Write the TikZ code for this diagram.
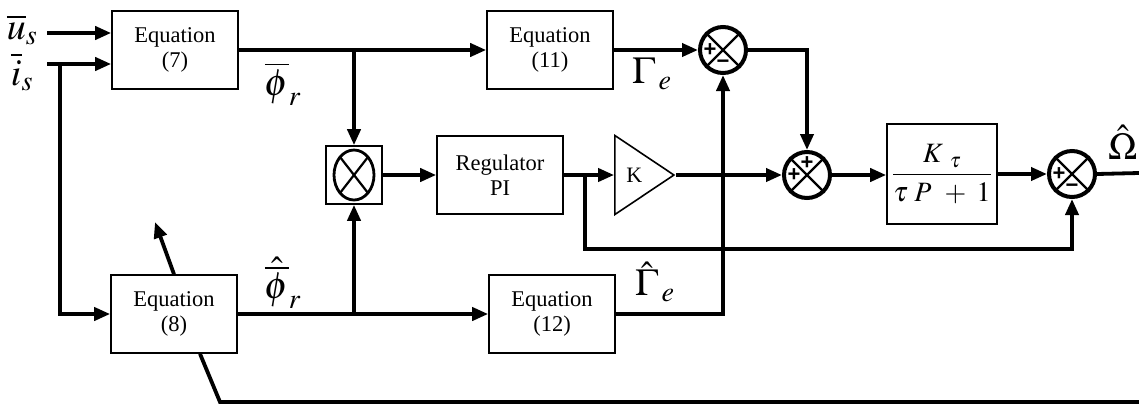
\documentclass[tikz,border=0pt]{standalone}
\usepackage{mathptmx}
\usepackage{fontspec}
\setmainfont{Liberation Serif}
\newfontfamily\signfont{Liberation Sans}
\usetikzlibrary{arrows.meta,shapes.geometric}
\tikzset{
  eqbox/.style={
    draw,
    line width=1.6pt,
    minimum width=126pt,
    minimum height=78pt,
    align=center,
    font=\fontsize{22.5}{25}\selectfont,
    inner sep=0pt
  },
  tfbox/.style={
    draw,
    line width=1.6pt,
    minimum width=110pt,
    minimum height=100pt,
    font=\fontsize{28}{32}\selectfont,
    inner sep=0pt
  },
  multbox/.style={
    draw,
    line width=1.6pt,
    minimum width=56pt,
    minimum height=58pt
  },
  gainnode/.style={
    draw,
    line width=1.6pt,
    isosceles triangle,
    isosceles triangle stretches,
    minimum width=79pt,
    minimum height=59pt,
    inner sep=0pt,
    font=\fontsize{22}{25}\selectfont
  },
  sumnode/.style={
    draw,
    circle,
    line width=4pt,
    minimum size=46pt,
    inner sep=0pt
  },
  signlabel/.style={
    font=\fontsize{22}{22}\signfont\bfseries,
    inner sep=0pt
  },
  varlabel/.style={
    font=\fontsize{38}{42}\selectfont,
    inner sep=0pt
  },
  sig/.style={
    line width=3.8pt
  },
  sigarrow/.style={
    sig,
    -{Triangle[length=16pt,width=13pt]}
  }
}

\begin{document}
\begin{tikzpicture}[x=1pt,y=-1pt]
  \useasboundingbox (0,0) rectangle (1139,408);
  % blocks
  \node[eqbox] (eqsept) at (175,50) {Equation\\(7)};
  \node[eqbox] (eqhuit) at (174,314) {Equation\\(8)};
  \node[eqbox] (eqonze) at (550,50) {Equation\\(11)};
  \node[eqbox] (eqdouze) at (552,314) {Equation\\(12)};
  \node[multbox] (mult) at (354,175) {};
  \node[eqbox] (reg) at (500,175) {Regulator\\PI};
  \node[gainnode, anchor=apex] (gain) at (676,175) {K};
  \node[sumnode] (sumtorque) at (723,50) {};
  \node[sumnode] (sumadd) at (807,175) {};
  \node[tfbox] (plant) at (942,174) {$\displaystyle\frac{K_{\;\;\tau}}{\tau\;P\;\,+\;1}$};
  \node[sumnode] (sumspeed) at (1072,174) {};
  % labels
  \node[varlabel] (ulabel) at (22,30) {$\overline{u}_{s}$};
  \node[varlabel] (ilabel) at (22,72) {$\overline{i}_{s}$};
  \node[varlabel] (philabel) at (283,84) {$\overline{\phi}_{r}$};
  \node[varlabel] (phihatlabel) at (283,283) {$\hat{\overline{\phi}}_{r}$};
  \node[varlabel] (gammalabel) at (652,74) {$\Gamma_{\,e}$};
  \node[varlabel] (gammahatlabel) at (655,282) {$\hat{\Gamma}_{\,e}$};
  \node[varlabel] (omegalabel) at (1123,142) {$\hat{\Omega}$};
  % free ends and branch points
  \coordinate (uin) at (47,33);
  \coordinate (iin) at (47,64);
  \coordinate (ibranch) at (60,64);
  \coordinate (phibranch) at (354,50);
  \coordinate (phihatbranch) at (354,314);
  \coordinate (regbranch) at (585,175);
  \coordinate (fbcorner) at (585,249);
  \coordinate (eighttip) at (155,222);
  \coordinate (eightbend) at (220,402);
  \coordinate (eightend) at (1139,402);
  \coordinate (omegaout) at (1139,173);
  % multiplier and summing junctions
  \draw[line width=2.8pt] (mult.center) ellipse [x radius=20pt, y radius=25pt];
  \draw[line width=2.2pt] ([shift={(-14pt,18pt)}]mult.center) -- ([shift={(14pt,-18pt)}]mult.center)
    ([shift={(14pt,18pt)}]mult.center) -- ([shift={(-14pt,-18pt)}]mult.center);
  \foreach \s in {sumtorque,sumadd,sumspeed}{\draw[line width=2.2pt] (\s.north west) -- (\s.south east) (\s.north east) -- (\s.south west);}
  \node[signlabel] (sgnA) at ([xshift=-13pt]sumtorque.center) {+};
  \node[signlabel] (sgnB) at ([yshift=-14pt]sumtorque.center) {−};
  \node[signlabel] (sgnC) at ([yshift=12pt]sumadd.center) {+};
  \node[signlabel] (sgnD) at ([xshift=-13pt]sumadd.center) {+};
  \node[signlabel] (sgnE) at ([xshift=-13pt]sumspeed.center) {+};
  \node[signlabel] (sgnF) at ([yshift=-14pt]sumspeed.center) {−};
  % connectors
  \draw[sigarrow] (uin) -- (uin -| eqsept.west);
  \draw[sigarrow] (iin) -- (iin -| eqsept.west);
  \draw[sigarrow] (ibranch) |- (eqhuit.west);
  \draw[sigarrow] (eqsept.east) -- (eqonze.west);
  \draw[sigarrow] (phibranch) -- (mult.north);
  \draw[sigarrow] (eqhuit.east) -- (eqdouze.west);
  \draw[sigarrow] (phihatbranch) -- (mult.south);
  \draw[sigarrow] (mult.east) -- (reg.west);
  \draw[sigarrow] (reg.east) -- (gain.west);
  \draw[sigarrow] (regbranch) -- (fbcorner) -| (sumspeed.south);
  \draw[sigarrow] (gain.east) -- (sumadd.west);
  \draw[sigarrow] (eqonze.east) -- (sumtorque.west);
  \draw[sigarrow] (sumtorque.east) -| (sumadd.north);
  \draw[sigarrow] (eqdouze.east) -| (sumtorque.south);
  \draw[sigarrow] (sumadd.east) -- (sumadd.east -| plant.west);
  \draw[sigarrow] (plant.east) -- (sumspeed.west);
  \draw[sig] (sumspeed.east) -- (omegaout);
  \draw[sigarrow] (eqhuit.north) -- (eighttip);
  \draw[sig] ([xshift=26pt]eqhuit.south) -- (eightbend) -- (eightend);
\end{tikzpicture}
\end{document}
